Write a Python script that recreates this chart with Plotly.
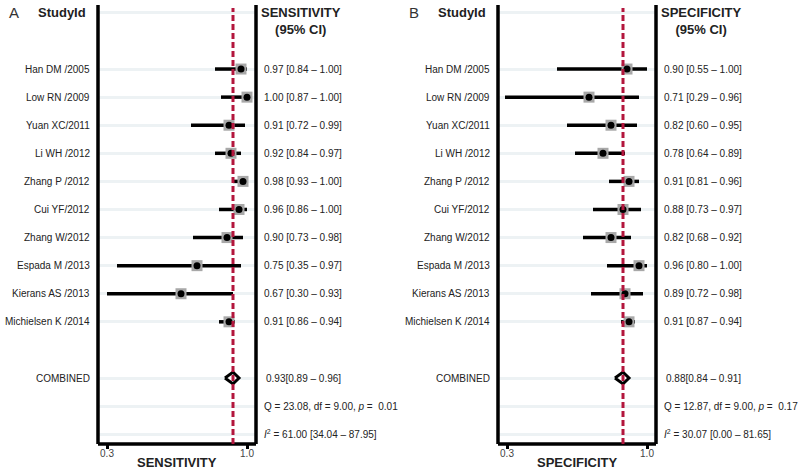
import plotly.graph_objects as go

# ---------------- data ----------------
studies = ["Han DM /2005", "Low RN /2009", "Yuan XC/2011", "Li WH /2012", "Zhang P /2012",
           "Cui YF/2012", "Zhang W/2012", "Espada M /2013", "Kierans AS /2013", "Michielsen K /2014"]

sens = [0.97, 1.00, 0.91, 0.92, 0.98, 0.96, 0.90, 0.75, 0.67, 0.91]
sens_lo = [0.84, 0.87, 0.72, 0.84, 0.93, 0.86, 0.73, 0.35, 0.30, 0.86]
sens_hi = [1.00, 1.00, 0.99, 0.97, 1.00, 1.00, 0.98, 0.97, 0.93, 0.94]

spec = [0.90, 0.71, 0.82, 0.78, 0.91, 0.88, 0.82, 0.96, 0.89, 0.91]
spec_lo = [0.55, 0.29, 0.60, 0.64, 0.81, 0.73, 0.68, 0.80, 0.72, 0.87]
spec_hi = [1.00, 0.96, 0.95, 0.89, 0.96, 0.97, 0.92, 1.00, 0.98, 0.94]

sens_comb = [0.93, 0.89, 0.96]
spec_comb = [0.88, 0.84, 0.91]
sens_q = [23.08, 9.00, 0.01]
spec_q = [12.87, 9.00, 0.17]
sens_i2 = [61.00, 34.04, 87.95]
spec_i2 = [30.07, 0.00, 81.65]

x_ticks = [0.3, 1.0]
x_ticktext = ["0.3", "1.0"]

panels = [
    dict(letter="A", measure="SENSITIVITY", est=sens, lo=sens_lo, hi=sens_hi,
         comb=sens_comb, q=sens_q, i2=sens_i2, xa="x", ya="y", off=0),
    dict(letter="B", measure="SPECIFICITY", est=spec, lo=spec_lo, hi=spec_hi,
         comb=spec_comb, q=spec_q, i2=spec_i2, xa="x2", ya="y2", off=400),
]

# ---------------- layout helpers ----------------
W, H = 800, 475
study_rows = list(range(2, 2 + len(studies)))
comb_row, q_row, i2_row, head_row = 13, 14, 15, 0
grid_rows = [head_row] + study_rows + [comb_row, q_row, i2_row]

FONT = "Liberation Sans, Arial, sans-serif"
TXT = "#222222"
RED = "#b3163d"

def px(x):
    return x / W

def py(y):
    return 1 - y / H

fig = go.Figure()
annotations = []
shapes = []

for p in panels:
    xa, ya, off = p["xa"], p["ya"], p["off"]
    est, lo, hi = p["est"], p["lo"], p["hi"]
    # CI bars + grey squares
    fig.add_trace(go.Scatter(
        x=est, y=study_rows, xaxis=xa, yaxis=ya, mode="markers",
        marker=dict(symbol="square", size=11, color="#a8a8a8",
                    line=dict(width=0)),
        error_x=dict(type="data", symmetric=False,
                     array=[h - e for h, e in zip(hi, est)],
                     arrayminus=[e - l for e, l in zip(est, lo)],
                     thickness=3.5, width=0, color="#000000"),
        showlegend=False, hoverinfo="skip"))
    # black dots
    fig.add_trace(go.Scatter(
        x=est, y=study_rows, xaxis=xa, yaxis=ya, mode="markers",
        marker=dict(symbol="circle", size=7, color="#000000"),
        showlegend=False, hoverinfo="skip"))
    # combined diamond
    c, cl, ch = p["comb"]
    dh = 0.21
    fig.add_trace(go.Scatter(
        x=[cl, c, ch, c, cl], y=[comb_row, comb_row - dh, comb_row, comb_row + dh, comb_row],
        xaxis=xa, yaxis=ya, mode="lines", fill="toself", fillcolor="white",
        line=dict(color="#000000", width=3), showlegend=False, hoverinfo="skip"))

    dom = xa + " domain"
    ydom = ya + " domain"
    # frame: left, right, bottom
    for x0, y0, x1, y1 in [(0, 0, 0, 1), (1, 0, 1, 1), (0, 0, 1, 0)]:
        shapes.append(dict(type="line", xref=dom, yref=ydom, x0=x0, y0=y0, x1=x1, y1=y1,
                           line=dict(color="#000000", width=3.5)))
    # dashed pooled line
    shapes.append(dict(type="line", xref=xa, yref=ydom, x0=c, x1=c, y0=0, y1=0.993,
                       line=dict(color=RED, width=3, dash="6px,3px")))

    # study labels and CI texts
    for r, s, e, l, h in zip(study_rows, studies, est, lo, hi):
        annotations.append(dict(xref="paper", yref=ya, x=px(off + 92), y=r, text=s,
                                xanchor="right", yanchor="middle", showarrow=False,
                                font=dict(size=10, color=TXT, family=FONT)))
        annotations.append(dict(xref="paper", yref=ya, x=px(off + 262), y=r,
                                text=f"{e:.2f} [{l:.2f} \u2013 {h:.2f}]",
                                xanchor="left", yanchor="middle", showarrow=False,
                                font=dict(size=10, color=TXT, family=FONT)))
    annotations.append(dict(xref="paper", yref=ya, x=px(off + 92), y=comb_row, text="COMBINED",
                            xanchor="right", yanchor="middle", showarrow=False,
                            font=dict(size=10, color=TXT, family=FONT)))
    annotations.append(dict(xref="paper", yref=ya, x=px(off + 264), y=comb_row,
                            text=f"{c:.2f}[{cl:.2f} \u2013 {ch:.2f}]",
                            xanchor="left", yanchor="middle", showarrow=False,
                            font=dict(size=10, color=TXT, family=FONT)))
    qv, dfv, pv = p["q"]
    annotations.append(dict(xref="paper", yref=ya, x=px(off + 262), y=q_row,
                            text=f"Q = {qv:.2f}, df = {dfv:.2f}, <i>p</i> =  {pv:.2f}",
                            xanchor="left", yanchor="middle", showarrow=False,
                            font=dict(size=10, color=TXT, family=FONT)))
    iv, il, ih = p["i2"]
    annotations.append(dict(xref="paper", yref=ya, x=px(off + 262), y=i2_row,
                            text=f"<i>I</i><sup>2</sup> = {iv:.2f} [{il:.2f} \u2013 {ih:.2f}]",
                            xanchor="left", yanchor="middle", showarrow=False,
                            font=dict(size=10, color=TXT, family=FONT)))
    # headers
    annotations.append(dict(xref="paper", yref="paper", x=px(off + 88), y=py(12), text="<b>StudyId</b>",
                            xanchor="right", yanchor="middle", showarrow=False,
                            font=dict(size=13, color=TXT, family=FONT)))
    annotations.append(dict(xref="paper", yref="paper", x=px(off + 301), y=py(3),
                            text=f"<b>{p['measure']}</b><br><b>(95% CI)</b>",
                            xanchor="center", yanchor="top", showarrow=False, align="center",
                            font=dict(size=13, color=TXT, family=FONT)))
    annotations.append(dict(xref="paper", yref="paper", x=px(off + 7), y=py(12), text=p["letter"],
                            xanchor="left", yanchor="middle", showarrow=False,
                            font=dict(size=15, color="#333333", family=FONT)))
    # axis title
    annotations.append(dict(xref=dom, yref="paper", x=0.5, y=py(462),
                            text=f"<b>{p['measure']}</b>",
                            xanchor="center", yanchor="middle", showarrow=False,
                            font=dict(size=13, color=TXT, family=FONT)))

xr = [0.3 - 9 / 200, 1.0 + 9 / 200]
yr = [15.35, -0.28]
ydomain = [(H - 444) / H, (H - 5) / H]

xcommon = dict(range=xr, tickvals=x_ticks, ticktext=x_ticktext, ticks="outside",
               ticklen=4, tickwidth=2.5, tickcolor="#000000", showgrid=False,
               zeroline=False, showline=False, fixedrange=True, ticklabelstandoff=-4,
               tickfont=dict(size=10, color="#444444", family=FONT))
ycommon = dict(range=yr, domain=ydomain, tickvals=grid_rows, showticklabels=False,
               ticks="", showgrid=True, gridcolor="#edf2f4", gridwidth=2.5,
               zeroline=False, showline=False, fixedrange=True)

fig.update_layout(
    width=W, height=H, autosize=False,
    margin=dict(l=0, r=0, t=0, b=0),
    paper_bgcolor="white", plot_bgcolor="white",
    xaxis=dict(domain=[px(98), px(256)], anchor="y", **xcommon),
    xaxis2=dict(domain=[px(498), px(656)], anchor="y2", **xcommon),
    yaxis=dict(anchor="x", **ycommon),
    yaxis2=dict(anchor="x2", **ycommon),
    annotations=annotations,
    shapes=shapes,
    font=dict(family=FONT),
)

fig.write_html("out.html", config={"displayModeBar": False},
               post_script="document.body.style.margin='0';document.body.style.overflow='hidden';")
